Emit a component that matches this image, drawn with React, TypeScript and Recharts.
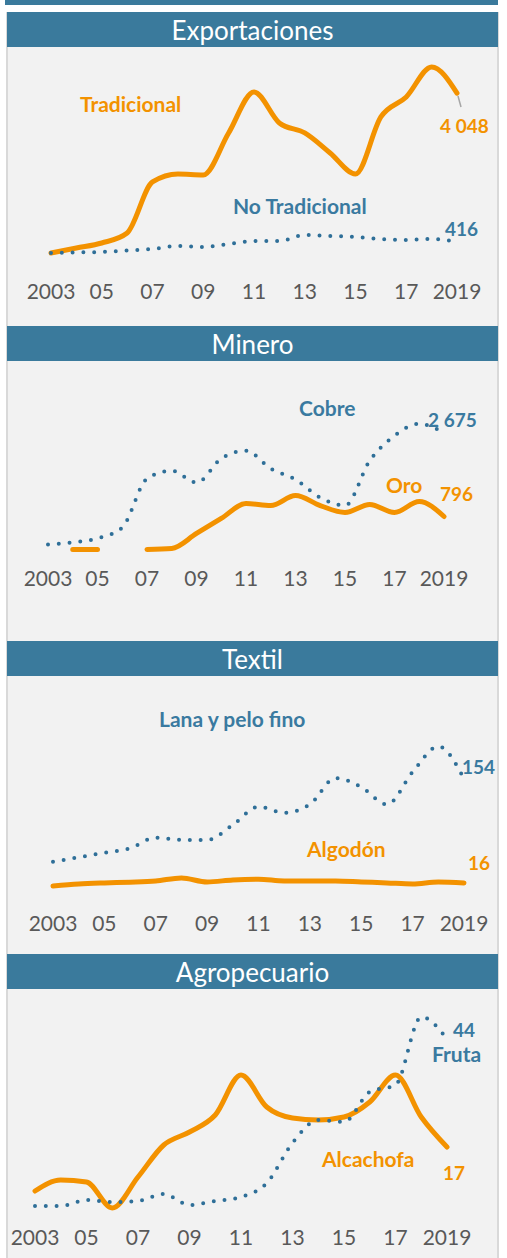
import React from 'react';
import { LineChart, Line, XAxis, YAxis, LabelList } from 'recharts';

const years = [2003, 2004, 2005, 2006, 2007, 2008, 2009, 2010, 2011, 2012, 2013, 2014, 2015, 2016, 2017, 2018, 2019];
const tickYears = [2003, 2005, 2007, 2009, 2011, 2013, 2015, 2017, 2019];
const tickLabels = ['2003', '05', '07', '09', '11', '13', '15', '17', '2019'];

// Exportaciones
const tradicional = [146, 268, 390, 634, 1879, 2074, 2050, 3074, 4075, 3318, 3074, 2586, 2074, 3465, 3953, 4685, 4048];
const noTradicional = [146, 160, 171, 207, 244, 317, 293, 366, 439, 439, 586, 561, 537, 488, 464, 488, 416];
// Minero
const cobre = [170, 215, 304, 550, 1646, 1825, 1557, 2094, 2273, 1870, 1624, 1221, 1042, 2049, 2608, 2877, 2675];
const oro = [null, 58, 58, null, 58, 80, 416, 752, 1087, 1042, 1266, 1042, 886, 1065, 886, 1132, 796];
// Textil
const lana = [44, 50, 56, 62, 76, 73, 73, 93, 117, 109, 120, 155, 143, 120, 163, 197, 154];
const algodon = [12, 14.6, 16, 17, 18.6, 22.6, 17.3, 20, 21, 18.6, 18.6, 18.6, 17.3, 16, 14.6, 17.3, 16];
// Agropecuario
const fruta = [2.25, 2.25, 3.75, 3.25, 3.5, 5.25, 2.5, 3.5, 4.5, 8, 18, 23.75, 23.25, 30.75, 32.5, 49.5, 44];
const alcachofa = [6, 8.75, 8.25, 1.75, 9.5, 17.5, 20.75, 25, 35, 27, 24.25, 23.75, 24.5, 28.25, 35, 24.5, 17];

const ORANGE = '#F39200';
const BLUE = '#3A7A9C';
const BLUE_TEXT = '#3A7AA0';
const BLUE_DOT = '#2F6F98';
const FONT = 'Lato, "Open Sans", sans-serif';
const W = 507;
const AXIS_H = 60;

const fmt = (v: number) => String(Math.round(v)).replace(/\B(?=(\d{3})+(?!\d))/g, ' ');

type SeriesDef = { key: string; values: (number | null)[]; color: string; textColor: string; dotted?: boolean; dx: number; dy: number; leader?: boolean };
type NameDef = { text: string; color: string; x: number; baseline: number };
type PanelDef = {
  title: string; headerTop: number; plotTop: number; plotBottom: number;
  xStart: number; xEnd: number; tickCenter: number; yMax: number;
  series: SeriesDef[]; names: NameDef[];
};

const panels: PanelDef[] = [
  {
    title: 'Exportaciones', headerTop: 12, plotTop: 54, plotBottom: 259, xStart: 51, xEnd: 457, tickCenter: 291, yMax: 5000,
    series: [
      { key: 'tradicional', values: tradicional, color: ORANGE, textColor: ORANGE, dx: -17, dy: 33, leader: true },
      { key: 'noTradicional', values: noTradicional, color: BLUE_DOT, textColor: BLUE_TEXT, dotted: true, dx: -12, dy: -13 },
    ],
    names: [
      { text: 'Tradicional', color: ORANGE, x: 80, baseline: 112 },
      { text: 'No Tradicional', color: BLUE_TEXT, x: 233, baseline: 214 },
    ],
  },
  {
    title: 'Minero', headerTop: 326, plotTop: 396, plotBottom: 552, xStart: 48, xEnd: 444, tickCenter: 578, yMax: 3500,
    series: [
      { key: 'oro', values: oro, color: ORANGE, textColor: ORANGE, dx: -4, dy: -23 },
      { key: 'cobre', values: cobre, color: BLUE_DOT, textColor: BLUE_TEXT, dotted: true, dx: -16, dy: -13 },
    ],
    names: [
      { text: 'Cobre', color: BLUE_TEXT, x: 299, baseline: 416 },
      { text: 'Oro', color: ORANGE, x: 386, baseline: 493 },
    ],
  },
  {
    title: 'Textil', headerTop: 641, plotTop: 729, plotBottom: 895, xStart: 53, xEnd: 464, tickCenter: 923, yMax: 220,
    series: [
      { key: 'algodon', values: algodon, color: ORANGE, textColor: ORANGE, dx: 4, dy: -20 },
      { key: 'lana', values: lana, color: BLUE_DOT, textColor: BLUE_TEXT, dotted: true, dx: -2, dy: -12 },
    ],
    names: [
      { text: 'Lana y pelo fino', color: BLUE_TEXT, x: 159, baseline: 727 },
      { text: 'Algodón', color: ORANGE, x: 307, baseline: 857 },
    ],
  },
  {
    title: 'Agropecuario', headerTop: 954, plotTop: 995, plotBottom: 1215, xStart: 35, xEnd: 447, tickCenter: 1237, yMax: 55,
    series: [
      { key: 'alcachofa', values: alcachofa, color: ORANGE, textColor: ORANGE, dx: -4, dy: 26 },
      { key: 'fruta', values: fruta, color: BLUE_DOT, textColor: BLUE_TEXT, dotted: true, dx: 6, dy: -9 },
    ],
    names: [
      { text: 'Fruta', color: BLUE_TEXT, x: 432, baseline: 1062 },
      { text: 'Alcachofa', color: ORANGE, x: 322, baseline: 1167 },
    ],
  },
];

const tickLabel = (year: number) => tickLabels[tickYears.indexOf(year)] ?? String(year);

const Panel: React.FC<{ p: PanelDef }> = ({ p }) => {
  const chartTop = p.headerTop + 35;
  const data = years.map((year, i) => {
    const row: any = { year };
    p.series.forEach(s => { row[s.key] = s.values[i]; });
    return row;
  });
  const tickOffset = p.tickCenter - p.plotBottom + 7.5;

  const renderTick = (props: any) => {
    const { x, y, payload } = props;
    return (
      <text x={x} y={y + tickOffset} textAnchor="middle" fill="#595959" fontSize={21} fontFamily={FONT}>
        {tickLabel(payload.value)}
      </text>
    );
  };

  const endLabel = (s: SeriesDef) => (props: any) => {
    const { x, y, index } = props;
    const last = index === years.length - 1 || (index === undefined && Math.abs(x - p.xEnd) < 1);
    const v = s.values[years.length - 1];
    if (!last || v == null) return null;
    return (
      <g>
        {s.leader && <line x1={x + 1} y1={y + 3} x2={x + 4} y2={y + 14} stroke="#A6A6A6" strokeWidth={1.5} />}
        <text x={x + s.dx} y={y + s.dy + 7} fill={s.textColor} fontSize={19} fontWeight={700} fontFamily={FONT}>
          {fmt(v)}
        </text>
      </g>
    );
  };

  return (
    <>
      <div style={{
        position: 'absolute', left: 7, top: p.headerTop, width: 491, height: 35, background: BLUE,
        color: '#fff', fontFamily: FONT, fontSize: 26, lineHeight: '35px', textAlign: 'center', paddingTop: 1, boxSizing: 'border-box',
      }}>
        {p.title}
      </div>
      <div style={{ position: 'absolute', left: 0, top: chartTop }}>
        <LineChart
          width={W}
          height={p.plotBottom - chartTop + AXIS_H}
          data={data}
          margin={{ top: p.plotTop - chartTop, left: p.xStart, right: W - p.xEnd, bottom: 0 }}
        >
          <XAxis dataKey="year" type="category" ticks={tickYears} interval={0} axisLine={false} tickLine={false}
            tickSize={0} tickMargin={0} height={AXIS_H} tick={renderTick} />
          <YAxis hide width={0} type="number" domain={[0, p.yMax]} />
          {p.series.map(s => (
            <Line
              key={s.key}
              dataKey={s.key}
              type="monotone"
              stroke={s.color}
              strokeWidth={s.dotted ? 4 : 5}
              strokeDasharray={s.dotted ? '0 10.8' : undefined}
              strokeLinecap="round"
              dot={false}
              activeDot={false}
              isAnimationActive={false}
            >
              <LabelList dataKey={s.key} content={endLabel(s)} />
            </Line>
          ))}
        </LineChart>
      </div>
    </>
  );
};

const App: React.FC = () => {
  return (
    <div style={{ position: 'absolute', left: 0, top: 0, width: W, height: 1258, background: '#fff', overflow: 'hidden' }}>
      <div style={{ position: 'absolute', left: 5, top: 0, width: 493, height: 5, background: BLUE }} />
      <div style={{
        position: 'absolute', left: 6, top: 12, width: 493, height: 1246, background: '#F2F2F2',
        borderLeft: '2px solid #D9D9D9', borderRight: '2px solid #D9D9D9', boxSizing: 'border-box',
      }} />
      {panels.map(p => <Panel key={p.title} p={p} />)}
      <svg width={W} height={1258} style={{ position: 'absolute', left: 0, top: 0, pointerEvents: 'none' }}>
        {panels.flatMap(p => p.names).map(n => (
          <text key={n.text} x={n.x} y={n.baseline} fill={n.color} fontSize={21} fontWeight={700} fontFamily={FONT}>
            {n.text}
          </text>
        ))}
      </svg>
    </div>
  );
};

export default App;
